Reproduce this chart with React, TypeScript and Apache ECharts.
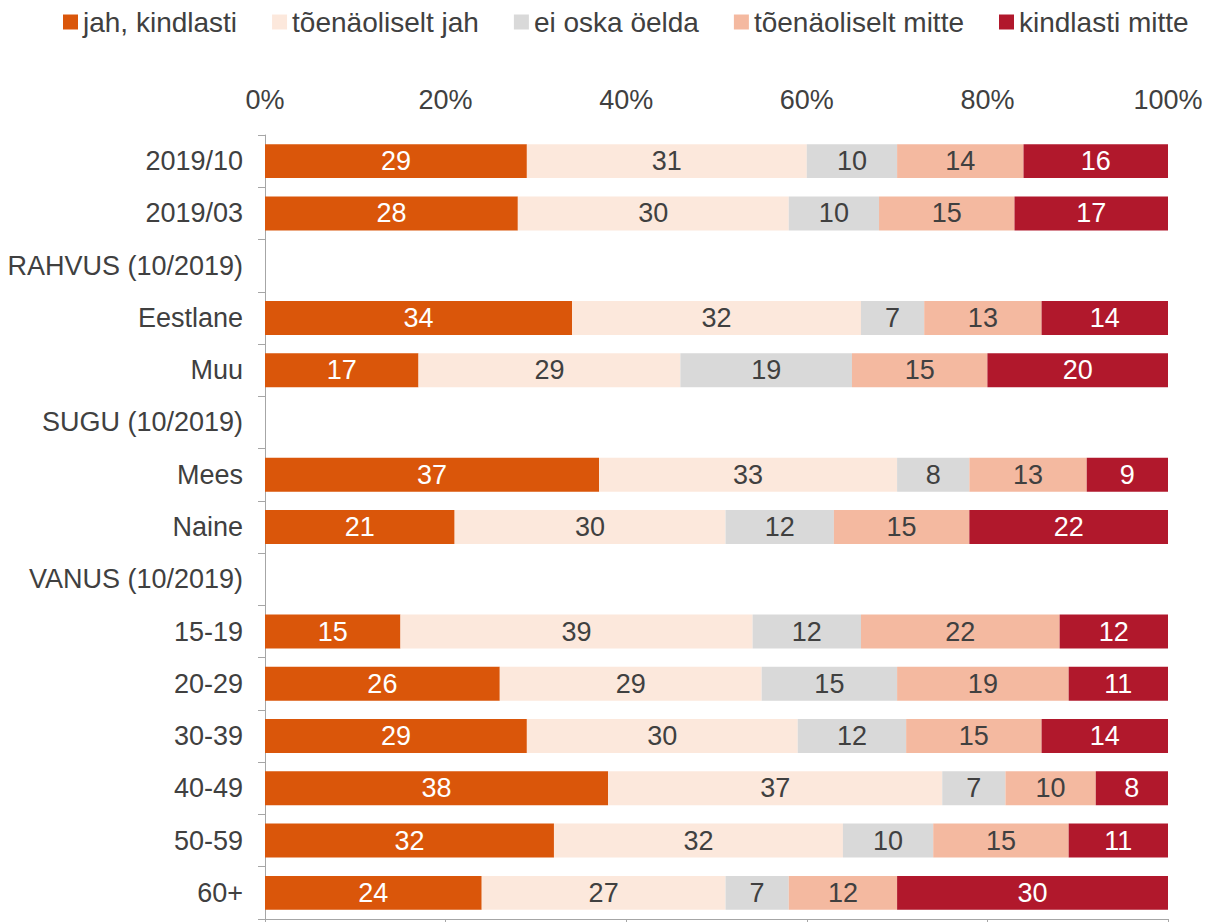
import React, { useEffect, useRef } from "react";
import * as echarts from "echarts";

const categories = [
  "2019/10", "2019/03", "RAHVUS (10/2019)", "Eestlane", "Muu", "SUGU (10/2019)",
  "Mees", "Naine", "VANUS (10/2019)", "15-19", "20-29", "30-39", "40-49", "50-59", "60+",
];
const seriesNames = ["jah, kindlasti", "tõenäoliselt jah", "ei oska öelda", "tõenäoliselt mitte", "kindlasti mitte"];
const jahKindlasti = [29, 28, null, 34, 17, null, 37, 21, null, 15, 26, 29, 38, 32, 24];
const toenaoliseltJah = [31, 30, null, 32, 29, null, 33, 30, null, 39, 29, 30, 37, 32, 27];
const eiOskaOelda = [10, 10, null, 7, 19, null, 8, 12, null, 12, 15, 12, 7, 10, 7];
const toenaoliseltMitte = [14, 15, null, 13, 15, null, 13, 15, null, 22, 19, 15, 10, 15, 12];
const kindlastiMitte = [16, 17, null, 14, 20, null, 9, 22, null, 12, 11, 14, 8, 11, 30];
const xTicks = [0, 20, 40, 60, 80, 100];

const colors = ["#DA560A", "#FCE8DC", "#D9D9D9", "#F4B9A0", "#B1182C"];
const labelColors = ["#FFFFFF", "#404040", "#404040", "#404040", "#FFFFFF"];
const FONT = "'Liberation Sans', Arial, sans-serif";

export default function App() {
  const ref = useRef<HTMLDivElement>(null);
  useEffect(() => {
    if (!ref.current) return;
    const chart = echarts.init(ref.current, undefined, { renderer: "svg" });
    const allData = [jahKindlasti, toenaoliseltJah, eiOskaOelda, toenaoliseltMitte, kindlastiMitte];
    chart.setOption({
      animation: false,
      textStyle: { fontFamily: FONT },
      legend: {
        data: seriesNames,
        left: 63,
        top: 8,
        padding: 0,
        itemWidth: 15,
        itemHeight: 15,
        itemGap: 35,
        icon: "rect",
        selectedMode: false,
        textStyle: { fontSize: 28, color: "#404040", fontFamily: FONT },
      },
      grid: { left: 265, right: 55, top: 135, bottom: 3, containLabel: false },
      xAxis: [
        {
          type: "value",
          position: "bottom",
          min: xTicks[0],
          max: xTicks[xTicks.length - 1],
          interval: 20,
          axisLine: { show: true, lineStyle: { color: "#A6A6A6", width: 1 } },
          axisTick: { show: true, length: 4, lineStyle: { color: "#A6A6A6" } },
          axisLabel: { show: false },
          splitLine: { show: false },
        },
        {
          type: "value",
          position: "top",
          min: xTicks[0],
          max: xTicks[xTicks.length - 1],
          interval: 20,
          axisLine: { show: false },
          axisTick: { show: false },
          axisLabel: {
            show: true,
            formatter: "{value}%",
            fontSize: 27,
            color: "#404040",
            margin: 22,
            fontFamily: FONT,
          },
          splitLine: { show: false },
        },
      ],
      yAxis: {
        type: "category",
        data: categories,
        inverse: true,
        axisLine: { show: true, lineStyle: { color: "#A6A6A6", width: 1 } },
        axisTick: { show: true, length: 7, lineStyle: { color: "#A6A6A6" } },
        axisLabel: { fontSize: 27, color: "#404040", margin: 22, fontFamily: FONT },
      },
      series: seriesNames.map((name, i) => ({
        name,
        type: "bar",
        stack: "total",
        xAxisIndex: 0,
        barWidth: "65%",
        itemStyle: { color: colors[i] },
        label: {
          show: true,
          position: "inside",
          color: labelColors[i],
          fontSize: 27,
          fontFamily: FONT,
          formatter: (p: any) => (p.value == null ? "" : String(p.value)),
        },
        data: allData[i],
      })),
    });
    return () => chart.dispose();
  }, []);
  return (
    <div
      ref={ref}
      style={{ position: "fixed", left: 0, top: 0, width: 1223, height: 922, background: "#fff" }}
    />
  );
}
